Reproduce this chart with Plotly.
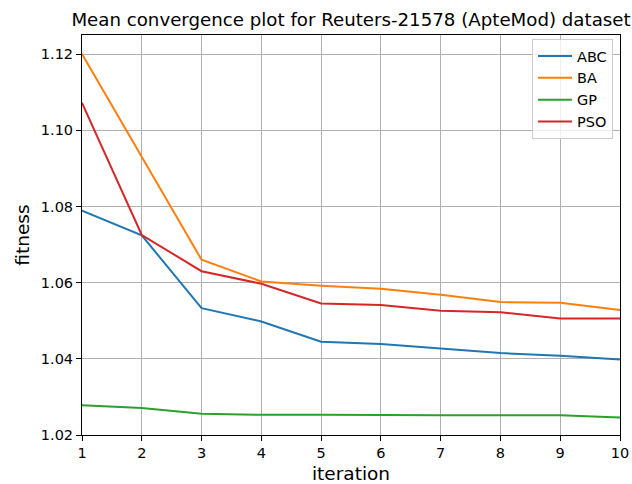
import plotly.graph_objects as go

iterations = [1, 2, 3, 4, 5, 6, 7, 8, 9, 10]
abc = [1.0789, 1.0724, 1.0533, 1.0498, 1.0445, 1.0439, 1.0427, 1.0415, 1.0408, 1.0398]
ba = [1.1200, 1.0930, 1.0660, 1.0603, 1.0592, 1.0584, 1.0568, 1.0549, 1.0547, 1.0528]
gp = [1.0278, 1.0271, 1.0256, 1.0253, 1.0253, 1.0252, 1.0252, 1.0252, 1.0252, 1.0246]
pso = [1.1072, 1.0725, 1.0630, 1.0597, 1.0545, 1.0541, 1.0526, 1.0522, 1.0506, 1.0506]

series = [("ABC", abc, "#1f77b4"), ("BA", ba, "#ff7f0e"), ("GP", gp, "#2ca02c"), ("PSO", pso, "#d62728")]
y_ticks = [1.02, 1.04, 1.06, 1.08, 1.10, 1.12]

fig = go.Figure()
for name, vals, color in series:
    fig.add_trace(go.Scatter(x=iterations, y=vals, mode="lines", name=name,
                             line=dict(color=color, width=2)))

font = "DejaVu Sans"
fig.update_layout(
    width=632, height=484,
    margin=dict(l=82, r=12, t=35, b=49),
    paper_bgcolor="white", plot_bgcolor="white",
    font=dict(family=font, color="black"),
    title=dict(text="Mean convergence plot for Reuters-21578 (ApteMod) dataset",
               x=(82 + 620) / 2 / 632, xanchor="center", y=1 - 20 / 484, yanchor="middle",
               font=dict(size=18.2, family=font)),
    legend=dict(x=0.987, y=0.99, xanchor="right", yanchor="top",
                bgcolor="rgba(255,255,255,0.8)", bordercolor="#cccccc", borderwidth=1,
                font=dict(size=14.5, family=font), itemwidth=34),
    showlegend=True,
)
fig.update_xaxes(
    range=[1, 10], tickvals=iterations, ticktext=[str(i) for i in iterations],
    title=dict(text="iteration", font=dict(size=18.5, family=font), standoff=6),
    showgrid=True, gridcolor="#b0b0b0", gridwidth=1,
    showline=True, linecolor="black", linewidth=1, mirror=True,
    ticks="outside", ticklen=5, tickcolor="black", tickfont=dict(size=14.5),
    zeroline=False, automargin=False,
)
fig.update_yaxes(
    range=[1.02, 1.125], tickvals=y_ticks, ticktext=[f"{v:.2f}" for v in y_ticks],
    title=dict(text="fitness", font=dict(size=18.5, family=font), standoff=6),
    showgrid=True, gridcolor="#b0b0b0", gridwidth=1,
    showline=True, linecolor="black", linewidth=1, mirror=True,
    ticks="outside", ticklen=5, tickcolor="black", tickfont=dict(size=14.5),
    zeroline=False, automargin=False,
)
fig.write_html("out.html")
